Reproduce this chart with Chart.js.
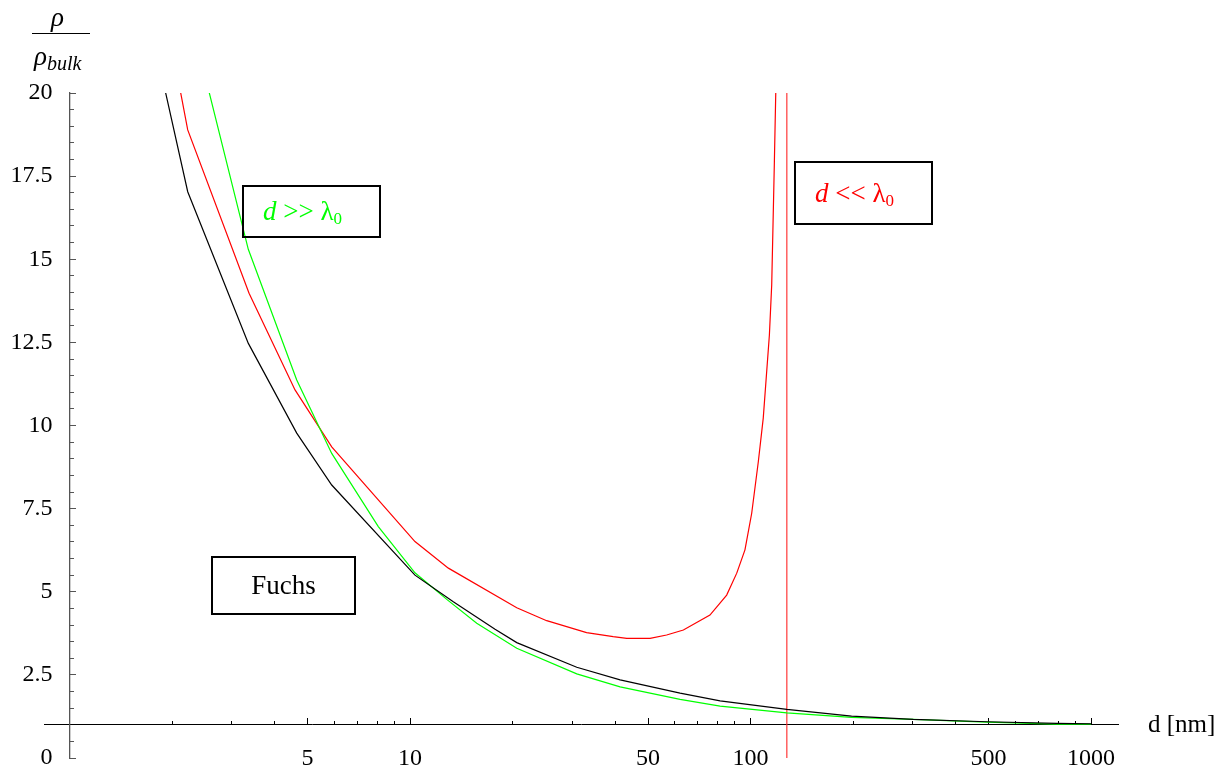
<!DOCTYPE html>
<html>
<head>
<meta charset="utf-8">
<script src="https://cdn.jsdelivr.net/npm/chart.js@4.4.1/dist/chart.umd.min.js"></script>
<style>
  html, body { margin: 0; padding: 0; background: #fff; }
  #wrap { position: relative; width: 1225px; height: 772px; font-family: 'Liberation Serif', 'Times New Roman', serif; color: #000; }
  #chart { position: absolute; left: 0; top: 0; }
  .txt { position: absolute; white-space: nowrap; line-height: 24px; }
  .note { position: absolute; box-sizing: border-box; border: 2px solid #000; font-size: 27px; display: flex; align-items: center; white-space: nowrap; }
  .note i, .frac i { font-style: italic; }
  .note sub { font-size: 17px; vertical-align: -4px; line-height: 0; }
</style>
</head>
<body>
<div id="wrap">
  <canvas id="chart" width="1225" height="772"></canvas>

  <div class="txt frac" style="left:51px; top:5px; font-size:27px;"><i>ρ</i></div>
  <div style="position:absolute; left:32px; top:33px; width:58px; height:0; border-top:1.5px solid #000;"></div>
  <div class="txt frac" style="left:34px; top:44px; font-size:27px;"><i>ρ</i><i style="font-size:20px; position:relative; top:5px;">bulk</i></div>

  <div class="note" style="left:242px; top:185px; width:139px; height:53px; padding-left:19px; color:#00ff00;">
    <span><i>d</i> &gt;&gt; λ<sub>0</sub></span>
  </div>
  <div class="note" style="left:794px; top:161px; width:139px; height:64px; padding-left:19px; color:#ff0000;">
    <span><i>d</i> &lt;&lt; λ<sub>0</sub></span>
  </div>
  <div class="note" style="left:211px; top:556px; width:145px; height:59px; justify-content:center;">
    <span>Fuchs</span>
  </div>

  <div class="txt" style="left:1148px; top:712px; font-size:25px;">d [nm]</div>
</div>

<script>
// thickness d in nm, resistivity ratio rho / rho_bulk
const fuchsD = [1.85, 2.224, 3.351, 4.648, 5.889, 10.34, 13.4, 17.77, 20.58, 30.88, 41.4, 62.1, 81.4, 127.8, 198, 300.6, 494, 793, 1000];
const fuchsRho = [20.7, 17.03, 12.47, 9.77, 8.21, 5.50, 4.70, 3.87, 3.47, 2.73, 2.35, 1.95, 1.72, 1.46, 1.26, 1.16, 1.09, 1.04, 1.03];

const thickD = [2.5, 3.35, 4.648, 5.889, 8.07, 10.34, 12.82, 15.7, 20.58, 30.88, 41.4, 62.1, 81.4, 127.8, 198, 300.6, 494, 793, 1000];
const thickRho = [20.52, 15.3, 11.37, 9.16, 6.96, 5.57, 4.77, 4.05, 3.30, 2.53, 2.14, 1.765, 1.56, 1.36, 1.22, 1.16, 1.08, 1.02, 1.02];

const thinD = [2.05, 2.224, 3.367, 4.595, 5.889, 10.34, 12.96, 20.58, 25.2, 33.0, 39.5, 43.3, 50.7, 56.7, 63.5, 76.0, 85.1, 91.1, 96.3, 100.8, 105.4, 109.0, 113.6, 115.4, 117.5, 118.6, 119.2];
const thinRho = [20.8, 18.89, 13.98, 11.07, 9.36, 6.51, 5.71, 4.52, 4.13, 3.77, 3.65, 3.60, 3.60, 3.70, 3.85, 4.30, 4.90, 5.56, 6.26, 7.36, 8.91, 10.23, 12.72, 14.23, 17.93, 20.0, 21.5];

// the thin-film curve jumps at its pole
const poleD = [127.8, 127.8];
const poleRho = [0, 20];

const xMajorTicks = [5, 10, 50, 100, 500, 1000];
const xMinorTicks = [2, 3, 4, 6, 7, 8, 9, 20, 30, 40, 60, 70, 80, 90, 200, 300, 400, 600, 700, 800, 900];

const X_MIN = 0.8415;
const X_MAX = 1200;
const Y_LABEL_AT = 0.891; // d where the y tick labels end
const SERIF = "'Liberation Serif', 'Times New Roman', serif";

Chart.defaults.font.family = SERIF;

function toPoints(xs, ys) {
  return xs.map((x, i) => ({ x, y: ys[i] }));
}

function lineSet(label, xs, ys, color, width) {
  return {
    label,
    data: toPoints(xs, ys),
    borderColor: color,
    borderWidth: width,
    pointRadius: 0,
    tension: 0,
    fill: false,
    xAxisID: 'x',
    yAxisID: 'y',
  };
}

new Chart(document.getElementById('chart'), {
  type: 'line',
  data: {
    datasets: [
      lineSet('Fuchs', fuchsD, fuchsRho, '#000000', 1.2),
      lineSet('d >> λ0', thickD, thickRho, '#00ff00', 1.2),
      lineSet('d << λ0', thinD, thinRho, '#ff0000', 1.2),
      lineSet('pole', poleD, poleRho, 'rgba(255,40,40,0.8)', 1.4),
    ],
  },
  options: {
    responsive: false,
    animation: false,
    layout: { padding: { top: 93, right: 107, bottom: 14, left: 44 } },
    plugins: {
      legend: { display: false },
      tooltip: { enabled: false },
    },
    scales: {
      x: {
        type: 'logarithmic',
        axis: 'x',
        min: X_MIN,
        max: X_MAX,
        position: { y: 1 },
        afterBuildTicks: (scale) => {
          scale.ticks = xMajorTicks.map((v) => ({ value: v }));
        },
        border: { color: '#000', width: 1 },
        grid: { drawOnChartArea: false, tickLength: -7, color: '#000' },
        ticks: {
          autoSkip: false,
          maxRotation: 0,
          padding: 27,
          color: '#000',
          font: { size: 24 },
          callback: (value) => String(value),
        },
      },
      x2: {
        type: 'logarithmic',
        axis: 'x',
        min: X_MIN,
        max: X_MAX,
        position: { y: 1 },
        afterBuildTicks: (scale) => {
          scale.ticks = xMinorTicks.map((v) => ({ value: v }));
        },
        border: { display: false },
        grid: { drawOnChartArea: false, tickLength: -4, color: '#000' },
        ticks: { display: false, autoSkip: false },
      },
      y: {
        type: 'linear',
        axis: 'y',
        min: 0,
        max: 20,
        position: { x: 1 },
        border: { color: '#555', width: 1.3 },
        grid: { drawOnChartArea: false, tickLength: -7, color: '#555' },
        ticks: { display: false, stepSize: 2.5 },
      },
      y2: {
        type: 'linear',
        axis: 'y',
        min: 0,
        max: 20,
        position: { x: 1 },
        border: { display: false },
        grid: { drawOnChartArea: false, tickLength: -4, color: '#555' },
        ticks: { display: false, stepSize: 0.5, autoSkip: false },
      },
      yl: {
        type: 'linear',
        axis: 'y',
        min: 0,
        max: 20,
        position: { x: Y_LABEL_AT },
        border: { display: false },
        grid: { display: false, drawTicks: false },
        ticks: {
          stepSize: 2.5,
          padding: 0,
          color: '#000',
          font: { size: 24, lineHeight: 1 },
        },
      },
    },
  },
});
</script>
</body>
</html>
